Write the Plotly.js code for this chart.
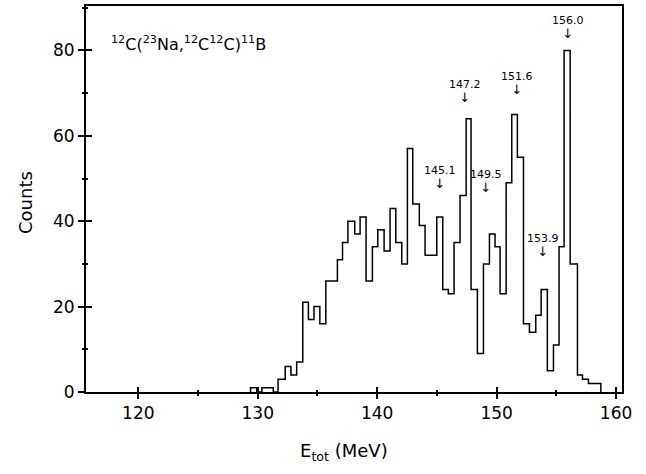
<!DOCTYPE html>
<html>
<head>
<meta charset="utf-8">
<script src="https://cdn.plot.ly/plotly-3.0.1.min.js"></script>
<style>html,body{margin:0;padding:0;background:#fff;}#chart{width:646px;height:474px;}</style>
</head>
<body>
<div id="chart"></div>
<script>
// Bin edges (MeV); last value is the right edge of the last bin
const binEdges = [129.4, 129.92, 130.35, 130.85, 131.3, 131.7, 132.3, 132.78, 133.26, 133.77,
  134.24, 134.71, 135.2, 135.7, 136.2, 136.67, 137.1, 137.55, 138.12, 138.57,
  139.07, 139.6, 140.05, 140.58, 141.08, 141.56, 142.06, 142.53, 142.98, 143.53,
  144.01, 144.5, 144.99, 145.49, 145.96, 146.44, 146.94, 147.45, 147.86, 148.39,
  148.9, 149.4, 149.87, 150.29, 150.8, 151.27, 151.74, 152.25, 152.75, 153.28,
  153.73, 154.25, 154.76, 155.23, 155.65, 156.16, 156.77, 157.19, 157.69, 158.2,
  158.73];
// Counts per bin
const counts = [1, 0, 1, 1, 0, 3, 6, 4, 7, 21,
  17, 20, 16, 26, 26, 31, 35, 40, 37, 41,
  26, 34, 38, 33, 43, 35, 30, 57, 44, 39,
  32, 32, 41, 24, 23, 35, 46, 64, 24, 9,
  30, 37, 34, 23, 49, 65, 55, 16, 14, 18,
  24, 5, 11, 34, 80, 30, 4, 3, 2, 2];
// Peak labels and where their arrows sit
const peakLabels = ["145.1", "147.2", "149.5", "151.6", "153.9", "156.0"];
const peakX = [145.27, 147.36, 149.15, 151.69, 153.9, 155.99];
const peakY = [50.2, 70.3, 49.2, 72.3, 34.3, 85.4];
const xTicks = [120, 130, 140, 150, 160];
const yTicks = [0, 20, 40, 60, 80];
const reactionLabel = "<sup>12</sup>C(<sup>23</sup>Na,<sup>12</sup>C<sup>12</sup>C)<sup>11</sup>B";

const xs = [binEdges[0]].concat(binEdges);
const ys = [0].concat(counts, [0]);

const FONT = "DejaVu Sans, Liberation Sans, Arial, sans-serif";
const xRange = [115.62, 160.5];
const yRange = [0, 90.4];

const traces = [
  {x: xs, y: ys, type: 'scatter', mode: 'lines', line: {shape: 'hv', color: '#000', width: 1.5}, hoverinfo: 'skip', showlegend: false},
  {x: [xTicks[0]], y: [yTicks[0]], type: 'scatter', mode: 'markers', marker: {size: 1, opacity: 0}, xaxis: 'x2', yaxis: 'y2', showlegend: false, hoverinfo: 'skip'}
];

const annotations = peakLabels.map((t, i) => ({
  x: peakX[i], y: peakY[i], xref: 'x', yref: 'y',
  text: t + '<br><span style="font-size:13px">↓</span>', showarrow: false,
  font: {family: FONT, size: 11, color: '#000'}, xanchor: 'center', yanchor: 'middle', align: 'center'
}));
annotations.push({x: 117.55, y: 81.7, xref: 'x', yref: 'y', text: reactionLabel, showarrow: false,
  font: {family: FONT, size: 16, color: '#000'}, xanchor: 'left', yanchor: 'middle'});
annotations.push({x: 0.481, y: -0.155, xref: 'paper', yref: 'paper', text: 'E<sub>tot</sub> (MeV)', showarrow: false,
  font: {family: FONT, size: 18, color: '#000'}, xanchor: 'center', yanchor: 'middle'});
annotations.push({x: -0.114, y: 0.492, xref: 'paper', yref: 'paper', text: 'Counts', showarrow: false, textangle: -90,
  font: {family: FONT, size: 18, color: '#000'}, xanchor: 'center', yanchor: 'middle'});

const layout = {
  width: 646, height: 474,
  margin: {l: 86, r: 24, t: 6, b: 82},
  paper_bgcolor: '#fff', plot_bgcolor: '#fff',
  showlegend: false,
  font: {family: FONT, size: 17, color: '#000'},
  xaxis: {range: xRange, tickmode: 'array', tickvals: xTicks, ticks: 'outside', ticklen: 5, tickwidth: 2, tickcolor: '#000',
    minor: {dtick: 5, ticks: 'outside', ticklen: 2, tickwidth: 2, tickcolor: '#000', showgrid: false},
    showline: true, linewidth: 2, linecolor: '#000', mirror: true, showgrid: false, zeroline: false,
    tickfont: {family: FONT, size: 17, color: '#000'}},
  yaxis: {range: yRange, tickmode: 'array', tickvals: yTicks, ticks: 'outside', ticklen: 6, tickwidth: 2, tickcolor: '#000',
    minor: {dtick: 10, ticks: 'outside', ticklen: 2, tickwidth: 2, tickcolor: '#000', showgrid: false},
    showline: true, linewidth: 2, linecolor: '#000', mirror: true, showgrid: false, zeroline: false,
    tickfont: {family: FONT, size: 17, color: '#000'}},
  xaxis2: {range: xRange, overlaying: 'x', side: 'bottom', tickmode: 'array', tickvals: xTicks, ticks: 'inside', ticklen: 5, tickwidth: 2, tickcolor: '#000',
    minor: {dtick: 5, ticks: 'inside', ticklen: 2, tickwidth: 2, tickcolor: '#000', showgrid: false},
    showticklabels: false, showline: false, showgrid: false, zeroline: false},
  yaxis2: {range: yRange, overlaying: 'y', side: 'left', tickmode: 'array', tickvals: yTicks, ticks: 'inside', ticklen: 6, tickwidth: 2, tickcolor: '#000',
    minor: {dtick: 10, ticks: 'inside', ticklen: 2, tickwidth: 2, tickcolor: '#000', showgrid: false},
    showticklabels: false, showline: false, showgrid: false, zeroline: false},
  annotations: annotations
};

Plotly.newPlot('chart', traces, layout, {staticPlot: true, displayModeBar: false});
</script>
</body>
</html>
